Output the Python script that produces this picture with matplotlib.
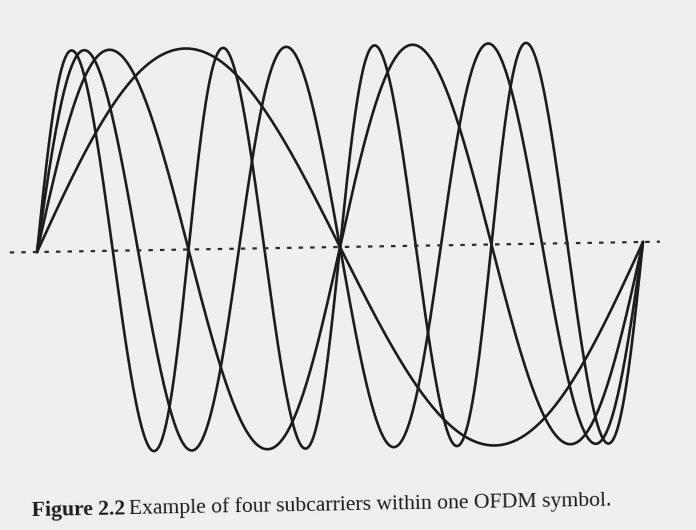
import numpy as np
import matplotlib
matplotlib.use("Agg")
import matplotlib.pyplot as plt
import matplotlib.transforms as mtransforms

# subcarrier indices (cycles per symbol) and the shared amplitude
subcarriers = [1, 2, 3, 4]
amplitude = 1.0
symbol_start, symbol_end = 0.0, 1.0
baseline_span = [-0.045, 1.028]

caption_bold = "Figure 2.2"
caption_rest = "Example of four subcarriers within one OFDM symbol."

W, H = 696, 530
fig = plt.figure(figsize=(W / 100, H / 100), dpi=100)
fig.patch.set_facecolor("#efefef")

# axes placed in pixel units: t=0 at x=37 px, t=1 at x=643 px, midline at y=247 px
x_lo, x_hi = -0.06, 1.06
y_lo, y_hi = -1.05, 1.05
px_per_t = 606
px_per_amp = 201
left_px = 37 + x_lo * px_per_t
width_px = (x_hi - x_lo) * px_per_t
top_px = 247 - y_hi * px_per_amp
height_px = (y_hi - y_lo) * px_per_amp
ax = fig.add_axes([left_px / W, 1 - (top_px + height_px) / H, width_px / W, height_px / H])
ax.set_xlim(x_lo, x_hi)
ax.set_ylim(y_lo, y_hi)
ax.axis("off")

# the scanned page is turned slightly
tilt = mtransforms.Affine2D().rotate_deg_around(340, H - 247, 0.95)
trans = ax.transData + tilt

t = np.linspace(symbol_start, symbol_end, 1200)
for k in subcarriers:
    ax.plot(t, amplitude * np.sin(2 * np.pi * k * t), color="#1c1c1c", lw=1.9,
            solid_capstyle="round", transform=trans)

ax.plot(baseline_span, [0, 0], color="#2a2a2a", lw=1.6,
        linestyle=(0, (2.0, 3.2)), transform=trans)

# caption: bold figure number followed by regular text
fig.canvas.draw()
renderer = fig.canvas.get_renderer()
ang = 1.0
fs = 15.6
x0, y0 = 32, H - 516
t1 = fig.text(x0 / W, y0 / H, caption_bold, fontsize=fs, fontweight="bold",
              family="Liberation Serif", color="#1a1a1a", ha="left", va="baseline",
              rotation=ang, rotation_mode="anchor")
t1.set_rotation(0)
w1 = t1.get_window_extent(renderer).width
t1.set_rotation(ang)
gap = 4
dx = (w1 + gap) * np.cos(np.radians(ang))
dy = (w1 + gap) * np.sin(np.radians(ang))
fig.text((x0 + dx) / W, (y0 + dy) / H, caption_rest, fontsize=fs,
         family="Liberation Serif", color="#1a1a1a", ha="left", va="baseline",
         rotation=ang, rotation_mode="anchor")

fig.savefig("out.png", dpi=100, facecolor=fig.get_facecolor())
